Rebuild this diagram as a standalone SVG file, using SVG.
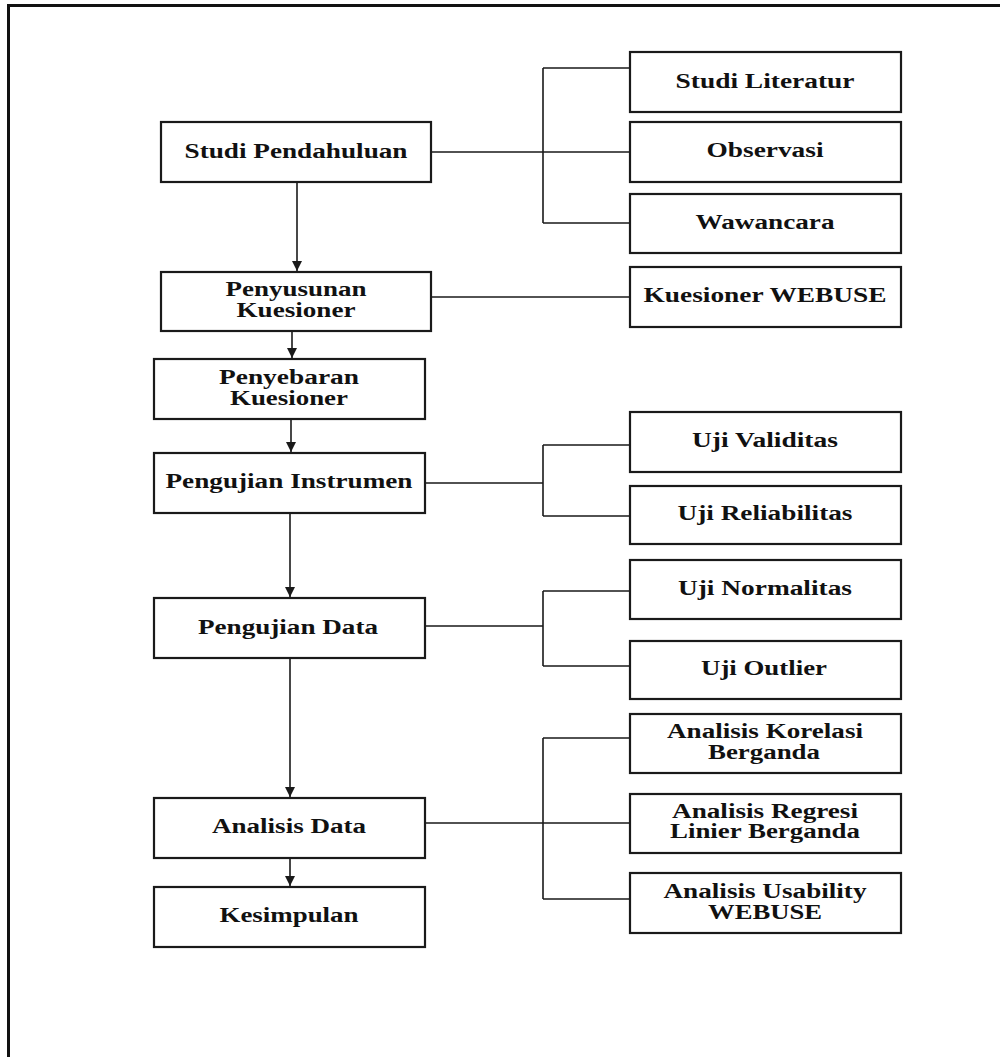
<svg xmlns="http://www.w3.org/2000/svg" width="1000" height="1057" viewBox="0 0 1000 1057">
<style>
.box{fill:#fff;stroke:#1a1a1a;stroke-width:2.2}
.ln{fill:none;stroke:#1a1a1a;stroke-width:1.6}
.t{font-family:"Liberation Serif","Times New Roman",serif;font-weight:bold;font-size:20px;fill:#111;text-anchor:middle}
</style>
<defs>
<marker id="ah" viewBox="0 0 10 10" refX="10" refY="5" markerWidth="10" markerHeight="10" markerUnits="userSpaceOnUse" orient="auto">
<path d="M0,0 L10,5 L0,10 Z" fill="#1a1a1a"/>
</marker>
</defs>
<rect width="1000" height="1057" fill="#fff"/>
<path d="M8.5,1057 V5.5 H1000" fill="none" stroke="#111" stroke-width="3"/>
<g id="connectors">
<path class="ln" d="M297,182 V271" marker-end="url(#ah)"/>
<path class="ln" d="M292,331 V358" marker-end="url(#ah)"/>
<path class="ln" d="M291,419 V452" marker-end="url(#ah)"/>
<path class="ln" d="M290,513 V597" marker-end="url(#ah)"/>
<path class="ln" d="M290,658 V797" marker-end="url(#ah)"/>
<path class="ln" d="M290,858 V886" marker-end="url(#ah)"/>
<path class="ln" d="M431,152 H630 M543,68 V223 M543,68 H630 M543,223 H630"/>
<path class="ln" d="M431,297 H630"/>
<path class="ln" d="M425,483 H543 M543,445 V516 M543,445 H630 M543,516 H630"/>
<path class="ln" d="M425,626 H543 M543,591 V666 M543,591 H630 M543,666 H630"/>
<path class="ln" d="M425,823 H630 M543,738 V899 M543,738 H630 M543,899 H630"/>
</g>
<g id="studi-pendahuluan"><rect class="box" x="161" y="122" width="270" height="60"/><text class="t" x="296" y="158" textLength="223" lengthAdjust="spacingAndGlyphs">Studi Pendahuluan</text></g>
<g id="penyusunan-kuesioner"><rect class="box" x="161" y="272" width="270" height="59"/><text class="t" x="296" y="296" textLength="141" lengthAdjust="spacingAndGlyphs">Penyusunan</text><text class="t" x="296" y="317" textLength="119" lengthAdjust="spacingAndGlyphs">Kuesioner</text></g>
<g id="penyebaran-kuesioner"><rect class="box" x="154" y="359" width="271" height="60"/><text class="t" x="289" y="384" textLength="140" lengthAdjust="spacingAndGlyphs">Penyebaran</text><text class="t" x="289" y="405" textLength="118" lengthAdjust="spacingAndGlyphs">Kuesioner</text></g>
<g id="pengujian-instrumen"><rect class="box" x="154" y="453" width="271" height="60"/><text class="t" x="289" y="488" textLength="247" lengthAdjust="spacingAndGlyphs">Pengujian Instrumen</text></g>
<g id="pengujian-data"><rect class="box" x="154" y="598" width="271" height="60"/><text class="t" x="288" y="634" textLength="180" lengthAdjust="spacingAndGlyphs">Pengujian Data</text></g>
<g id="analisis-data"><rect class="box" x="154" y="798" width="271" height="60"/><text class="t" x="289" y="833" textLength="154" lengthAdjust="spacingAndGlyphs">Analisis Data</text></g>
<g id="kesimpulan"><rect class="box" x="154" y="887" width="271" height="60"/><text class="t" x="289" y="922" textLength="139" lengthAdjust="spacingAndGlyphs">Kesimpulan</text></g>
<g id="studi-literatur"><rect class="box" x="630" y="52" width="271" height="60"/><text class="t" x="765" y="88" textLength="179" lengthAdjust="spacingAndGlyphs">Studi Literatur</text></g>
<g id="observasi"><rect class="box" x="630" y="122" width="271" height="60"/><text class="t" x="765" y="157" textLength="117" lengthAdjust="spacingAndGlyphs">Observasi</text></g>
<g id="wawancara"><rect class="box" x="630" y="194" width="271" height="59"/><text class="t" x="765" y="229" textLength="139" lengthAdjust="spacingAndGlyphs">Wawancara</text></g>
<g id="kuesioner-webuse"><rect class="box" x="630" y="267" width="271" height="60"/><text class="t" x="765" y="302" textLength="243" lengthAdjust="spacingAndGlyphs">Kuesioner WEBUSE</text></g>
<g id="uji-validitas"><rect class="box" x="630" y="412" width="271" height="60"/><text class="t" x="765" y="447" textLength="146" lengthAdjust="spacingAndGlyphs">Uji Validitas</text></g>
<g id="uji-reliabilitas"><rect class="box" x="630" y="486" width="271" height="58"/><text class="t" x="765" y="520" textLength="175" lengthAdjust="spacingAndGlyphs">Uji Reliabilitas</text></g>
<g id="uji-normalitas"><rect class="box" x="630" y="560" width="271" height="59"/><text class="t" x="765" y="595" textLength="174" lengthAdjust="spacingAndGlyphs">Uji Normalitas</text></g>
<g id="uji-outlier"><rect class="box" x="630" y="641" width="271" height="58"/><text class="t" x="764" y="675" textLength="126" lengthAdjust="spacingAndGlyphs">Uji Outlier</text></g>
<g id="analisis-korelasi"><rect class="box" x="630" y="714" width="271" height="59"/><text class="t" x="765" y="738" textLength="196" lengthAdjust="spacingAndGlyphs">Analisis Korelasi</text><text class="t" x="764" y="759" textLength="112" lengthAdjust="spacingAndGlyphs">Berganda</text></g>
<g id="analisis-regresi"><rect class="box" x="630" y="794" width="271" height="59"/><text class="t" x="765" y="818" textLength="186" lengthAdjust="spacingAndGlyphs">Analisis Regresi</text><text class="t" x="765" y="838" textLength="190" lengthAdjust="spacingAndGlyphs">Linier Berganda</text></g>
<g id="analisis-usability"><rect class="box" x="630" y="873" width="271" height="60"/><text class="t" x="765" y="898" textLength="203" lengthAdjust="spacingAndGlyphs">Analisis Usability</text><text class="t" x="765" y="919" textLength="114" lengthAdjust="spacingAndGlyphs">WEBUSE</text></g>
</svg>
